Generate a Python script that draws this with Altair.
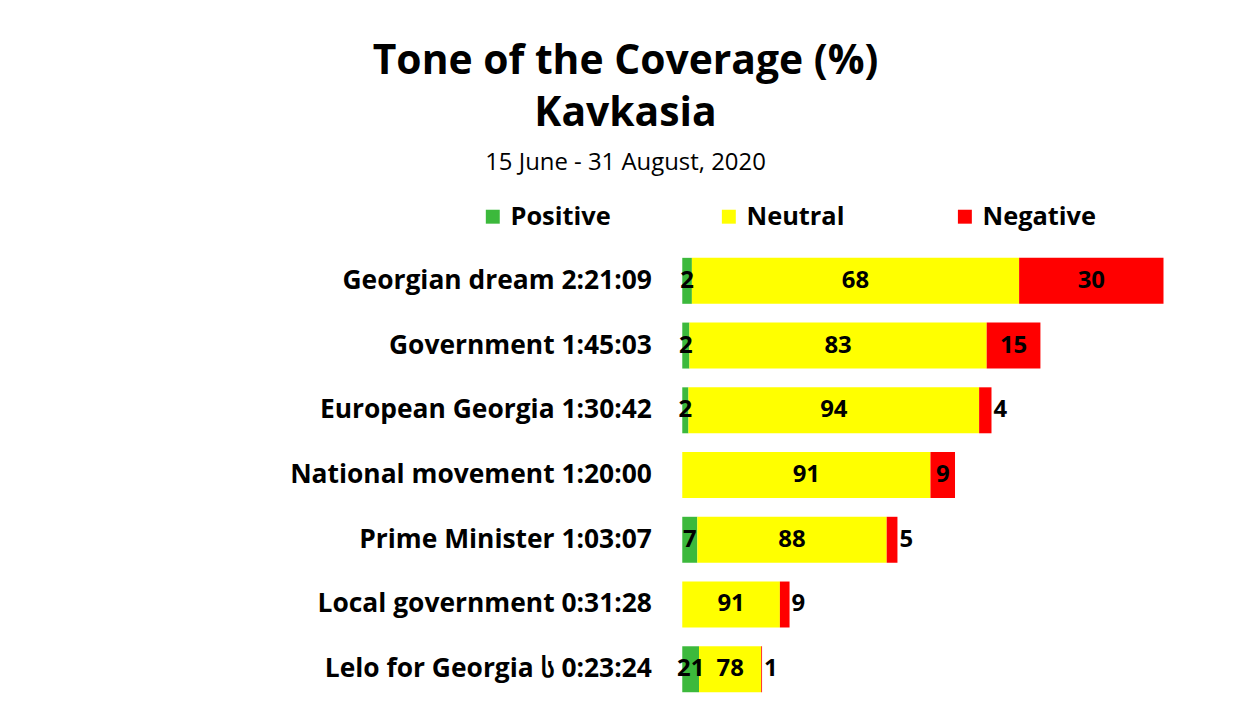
import altair as alt
import pandas as pd

categories = ["Georgian dream", "Government", "European Georgia", "National movement",
              "Prime Minister", "Local government", "Lelo for Georgia ს"]
durations = ["2:21:09", "1:45:03", "1:30:42", "1:20:00", "1:03:07", "0:31:28", "0:23:24"]
positive = [2, 2, 2, 0, 7, 0, 21]
neutral = [68, 83, 94, 91, 88, 91, 78]
negative = [30, 15, 4, 9, 5, 9, 1]
tones = ["Positive", "Neutral", "Negative"]
colors = ["#3CB93C", "#FFFF00", "#FF0000"]


def to_sec(s):
    h, m, sec = map(int, s.split(":"))
    return h * 3600 + m * 60 + sec


rows = []
labels = []
for cat, dur, p, n, g in zip(categories, durations, positive, neutral, negative):
    lab = f"{cat} {dur}"
    labels.append(lab)
    total = to_sec(dur)
    start = 0.0
    for tone, pct in zip(tones, [p, n, g]):
        seg = total * pct / 100.0
        rows.append(dict(label=lab, tone=tone, pct=pct, start=start, end=start + seg,
                         mid=start + seg / 2, outside=(tone == "Negative" and seg < 300)))
        start += seg
df = pd.DataFrame(rows)

FONT = "Open Sans"

y = alt.Y("label:N", sort=labels, title=None,
          scale=alt.Scale(paddingInner=0.29, paddingOuter=0.145),
          axis=alt.Axis(domain=False, ticks=False, labelFontSize=26.5, labelFontWeight="bold",
                        labelColor="black", labelFont=FONT, labelPadding=31, labelLimit=0))
xs = alt.Scale(domain=[0, 9500], nice=False, zero=True)

base = alt.Chart(df)

bars = base.mark_bar().encode(
    y=y,
    x=alt.X("start:Q", scale=xs, axis=None),
    x2="end:Q",
    color=alt.Color("tone:N", scale=alt.Scale(domain=tones, range=colors),
                    legend=alt.Legend(title=None, orient="none", legendX=-203, legendY=-45,
                                      direction="horizontal", symbolType="square",
                                      symbolSize=196, labelFontSize=25.5, labelFontWeight="bold",
                                      labelFont=FONT, labelColor="black", columnPadding=92,
                                      gridAlign="all", labelOffset=5, symbolStrokeWidth=0,
                                      padding=0, symbolOpacity=1)),
)

inside = base.transform_filter("datum.pct > 0 && !datum.outside").mark_text(
    align="center", baseline="middle", fontSize=24, fontWeight="bold", font=FONT, color="black"
).encode(y=alt.Y("label:N", sort=labels), x=alt.X("mid:Q", scale=xs), text="pct:Q")

outside = base.transform_filter("datum.outside").mark_text(
    align="left", baseline="middle", dx=2, fontSize=24, fontWeight="bold", font=FONT, color="black"
).encode(y=alt.Y("label:N", sort=labels), x=alt.X("end:Q", scale=xs), text="pct:Q")

chart = alt.layer(bars, inside, outside).properties(
    width=542, height=455,
    background="white",
    autosize=alt.AutoSizeParams(type="none"),
    padding={"left": 677, "top": 240, "right": 20, "bottom": 10},
    title=alt.TitleParams(text=["Tone of the Coverage (%)", "Kavkasia"],
                          subtitle="15 June - 31 August, 2020",
                          fontSize=41, font=FONT, fontWeight="bold", color="black", lineHeight=52,
                          subtitleFont=FONT, subtitleFontSize=24, subtitleColor="black",
                          subtitlePadding=16, anchor="middle", dx=-328, offset=28, frame="group"),
).configure_view(strokeWidth=0, stroke="transparent")

chart.save("out.html", embed_options={"renderer": "svg", "actions": False})
